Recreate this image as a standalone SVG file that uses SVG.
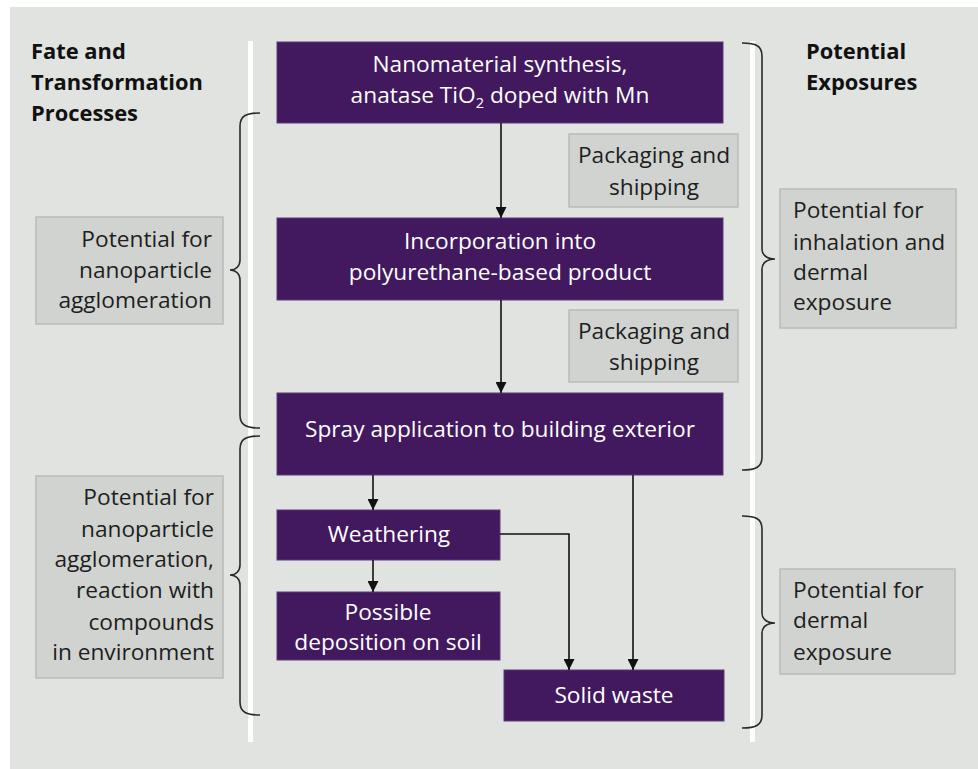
<svg xmlns="http://www.w3.org/2000/svg" width="978" height="769" viewBox="0 0 978 769">
  <defs>
    <marker id="arrow" viewBox="0 0 10 10" refX="10" refY="5" markerWidth="11" markerHeight="11" markerUnits="userSpaceOnUse" orient="auto">
      <path d="M0,0 L10,5 L0,10 Z" fill="#111"/>
    </marker>
    <style>
      .panel { fill: #e0e3df; }
      .divider { stroke: #ffffff; stroke-width: 5; }
      .step { fill: #42195e; stroke: #5c3a78; stroke-width: 1; }
      .step-text { font-family: "Open Sans", "Noto Sans", sans-serif; font-size: 22.7px; fill: #ffffff; text-anchor: middle; }
      .note { fill: #d0d3cf; stroke: #b9bcb8; stroke-width: 1.5; }
      .note-text { font-family: "Open Sans", "Noto Sans", sans-serif; font-size: 22.7px; fill: #1e1e1e; }
      .head { font-family: "Open Sans", "Noto Sans", sans-serif; font-size: 21.9px; font-weight: bold; fill: #111; }
      .link { stroke: #111; stroke-width: 1.6; fill: none; }
      .brace { stroke: #2a2a2a; stroke-width: 1.6; fill: none; }
    </style>
  </defs>

  <!-- background panel and column dividers -->
  <rect class="panel" x="10" y="7" width="968" height="762"/>
  <line class="divider" x1="250.5" y1="41" x2="250.5" y2="742"/>
  <line class="divider" x1="752.5" y1="41" x2="752.5" y2="742"/>

  <!-- column headings -->
  <g id="head-left">
    <text class="head" x="31" y="59">Fate and</text>
    <text class="head" x="31" y="90">Transformation</text>
    <text class="head" x="31" y="121">Processes</text>
  </g>
  <g id="head-right">
    <text class="head" x="806" y="59">Potential</text>
    <text class="head" x="806" y="90">Exposures</text>
  </g>

  <!-- process steps -->
  <g id="synthesis">
    <rect class="step" x="277" y="42" width="446" height="81"/>
    <text class="step-text" x="500" y="72">Nanomaterial synthesis,</text>
    <text class="step-text" x="500" y="103">anatase TiO<tspan font-size="14.5" dy="5">2</tspan><tspan dy="-5"> doped with Mn</tspan></text>
  </g>
  <g id="incorporation">
    <rect class="step" x="277" y="218" width="446" height="82"/>
    <text class="step-text" x="500" y="249">Incorporation into</text>
    <text class="step-text" x="500" y="280">polyurethane-based product</text>
  </g>
  <g id="spray">
    <rect class="step" x="277" y="393" width="446" height="82"/>
    <text class="step-text" x="500" y="437">Spray application to building exterior</text>
  </g>
  <g id="weathering">
    <rect class="step" x="277" y="510" width="223" height="50"/>
    <text class="step-text" x="389" y="542">Weathering</text>
  </g>
  <g id="deposition">
    <rect class="step" x="277" y="592" width="223" height="68"/>
    <text class="step-text" x="388" y="620">Possible</text>
    <text class="step-text" x="388" y="650">deposition on soil</text>
  </g>
  <g id="solid-waste">
    <rect class="step" x="504" y="670" width="220" height="51"/>
    <text class="step-text" x="614" y="703">Solid waste</text>
  </g>

  <!-- shipping notes -->
  <g id="shipping-1">
    <rect class="note" x="569" y="134" width="169" height="73"/>
    <text class="note-text" x="654" y="163" text-anchor="middle">Packaging and</text>
    <text class="note-text" x="654" y="195" text-anchor="middle">shipping</text>
  </g>
  <g id="shipping-2">
    <rect class="note" x="569" y="310" width="169" height="72"/>
    <text class="note-text" x="654" y="339" text-anchor="middle">Packaging and</text>
    <text class="note-text" x="654" y="370" text-anchor="middle">shipping</text>
  </g>

  <!-- fate notes -->
  <g id="fate-1">
    <rect class="note" x="36" y="217" width="187" height="107"/>
    <text class="note-text" x="212" y="247" text-anchor="end">Potential for</text>
    <text class="note-text" x="212" y="278" text-anchor="end">nanoparticle</text>
    <text class="note-text" x="212" y="308" text-anchor="end">agglomeration</text>
  </g>
  <g id="fate-2">
    <rect class="note" x="36" y="476" width="187" height="202"/>
    <text class="note-text" x="214" y="505" text-anchor="end">Potential for</text>
    <text class="note-text" x="214" y="537" text-anchor="end">nanoparticle</text>
    <text class="note-text" x="214" y="567" text-anchor="end">agglomeration,</text>
    <text class="note-text" x="214" y="598" text-anchor="end">reaction with</text>
    <text class="note-text" x="214" y="630" text-anchor="end">compounds</text>
    <text class="note-text" x="214" y="660" text-anchor="end">in environment</text>
  </g>

  <!-- exposure notes -->
  <g id="exposure-1">
    <rect class="note" x="780" y="189" width="176" height="139"/>
    <text class="note-text" x="793" y="218">Potential for</text>
    <text class="note-text" x="793" y="250">inhalation and</text>
    <text class="note-text" x="793" y="280">dermal</text>
    <text class="note-text" x="793" y="310">exposure</text>
  </g>
  <g id="exposure-2">
    <rect class="note" x="780" y="569" width="175" height="105"/>
    <text class="note-text" x="793" y="598">Potential for</text>
    <text class="note-text" x="793" y="628">dermal</text>
    <text class="note-text" x="793" y="660">exposure</text>
  </g>

  <!-- braces grouping the steps -->
  <g id="braces">
    <path class="brace" d="M260,113 C246,113 240,116 240,126 L240,260 C240,266 236,270 230,270 C236,270 240,274 240,280 L240,415 C240,425 246,428 260,428"/>
    <path class="brace" d="M260,436 C246,436 240,439 240,449 L240,565 C240,571 236,575 230,575 C236,575 240,579 240,585 L240,702 C240,712 246,715 260,715"/>
    <path class="brace" d="M742,43 C756,43 762,46 762,56 L762,249 C762,255 767,259 775,259 C767,259 762,263 762,269 L762,457 C762,467 756,470 742,470"/>
    <path class="brace" d="M742,516 C756,516 762,519 762,529 L762,613 C762,619 767,623 775,623 C767,623 762,627 762,633 L762,715 C762,725 756,728 742,728"/>
  </g>

  <!-- connectors -->
  <g id="connectors">
    <line class="link" x1="501" y1="123" x2="501" y2="218" marker-end="url(#arrow)"/>
    <line class="link" x1="501" y1="300" x2="501" y2="393" marker-end="url(#arrow)"/>
    <line class="link" x1="373" y1="475" x2="373" y2="510" marker-end="url(#arrow)"/>
    <line class="link" x1="373" y1="560" x2="373" y2="592" marker-end="url(#arrow)"/>
    <polyline class="link" points="500,534 569,534 569,670" marker-end="url(#arrow)"/>
    <line class="link" x1="633" y1="475" x2="633" y2="670" marker-end="url(#arrow)"/>
  </g>
</svg>
